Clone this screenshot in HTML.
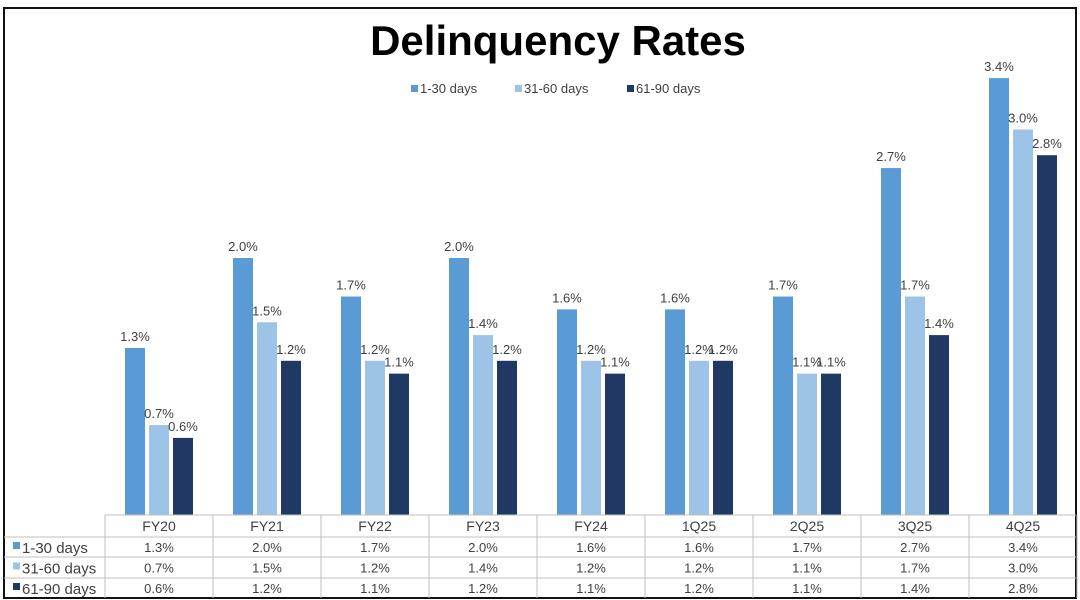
<!DOCTYPE html>
<html><head><meta charset="utf-8"><style>
html,body{margin:0;padding:0;background:#fff;}
svg{display:block;font-family:"Liberation Sans",sans-serif;}
</style></head><body>
<svg id="chart" width="1080" height="600" xmlns="http://www.w3.org/2000/svg">
<rect x="4" y="8" width="1072" height="590" fill="#fff" stroke="#111" stroke-width="2"/>
<text x="558" y="55" text-anchor="middle" font-size="42" font-weight="bold" fill="#000">Delinquency Rates</text>
<g id="legend"></g>
<g id="bars"></g>
<g id="table"></g>
</svg>
<script>
const categories = ["FY20","FY21","FY22","FY23","FY24","1Q25","2Q25","3Q25","4Q25"];
const seriesNames = ["1-30 days","31-60 days","61-90 days"];
const s1 = [1.3,2.0,1.7,2.0,1.6,1.6,1.7,2.7,3.4];
const s2 = [0.7,1.5,1.2,1.4,1.2,1.2,1.1,1.7,3.0];
const s3 = [0.6,1.2,1.1,1.2,1.1,1.2,1.1,1.4,2.8];
const series = [s1,s2,s3];
const colors = ["#5b9bd5","#9dc3e6","#1f3864"];
const NS = "http://www.w3.org/2000/svg";
const x0 = 105, catW = 108, base = 515, perUnit = 128.5;
function xCat(i){ return x0 + i*catW; }
function yVal(v){ return base - v*perUnit; }
function mk(tag, attrs, parent){ const e=document.createElementNS(NS,tag); for(const k in attrs) e.setAttribute(k,attrs[k]); parent.appendChild(e); return e; }
const bars = document.getElementById('bars');
series.forEach((s,si)=>{
  s.forEach((v,i)=>{
    const bx = xCat(i) + 20 + si*24;
    const r = mk('rect',{x:bx,y:yVal(v),width:20,height:v*perUnit,fill:colors[si]},bars);
    
    
    const t = mk('text',{x:bx+10,y:yVal(v)-7,'text-anchor':'middle','font-size':13,fill:'#404040'},bars);
    t.textContent = v.toFixed(1)+'%';
    
    
  });
});
const lg = document.getElementById('legend');
const legX = [411,515,627];
seriesNames.forEach((n,si)=>{
  mk('rect',{x:legX[si],y:85,width:7,height:7,fill:colors[si]},lg);
  const t = mk('text',{x:legX[si]+9,y:93,'font-size':13,fill:'#404040'},lg);
  t.textContent = n;
  
  
});
const tb = document.getElementById('table');
const rowY = [515,537,557,578,598];
const right = 1076;
mk('line',{x1:x0,y1:515,x2:right,y2:515,stroke:'#bfbfbf'},tb);
for(let r=1;r<4;r++) mk('line',{x1:4,y1:rowY[r],x2:right,y2:rowY[r],stroke:'#bfbfbf'},tb);
for(let i=0;i<=categories.length;i++) mk('line',{x1:xCat(i),y1:515,x2:xCat(i),y2:598,stroke:'#bfbfbf'},tb);
categories.forEach((c,i)=>{
  const t = mk('text',{x:xCat(i)+catW/2,y:531,'text-anchor':'middle','font-size':14,fill:'#404040'},tb);
  t.textContent = c;
  
  
});
series.forEach((s,si)=>{
  const cy = (rowY[si+1]+rowY[si+2])/2 + 5;
  mk('rect',{x:13,y:cy-10,width:7,height:7,fill:colors[si]},tb);
  const n = mk('text',{x:22,y:cy+1,'font-size':15,fill:'#404040'},tb);
  n.textContent = seriesNames[si];
  
  
  s.forEach((v,i)=>{
    const t = mk('text',{x:xCat(i)+catW/2,y:cy,'text-anchor':'middle','font-size':13,fill:'#404040'},tb);
    t.textContent = v.toFixed(1)+'%';
    
    
  });
});
</script>
</body></html>
